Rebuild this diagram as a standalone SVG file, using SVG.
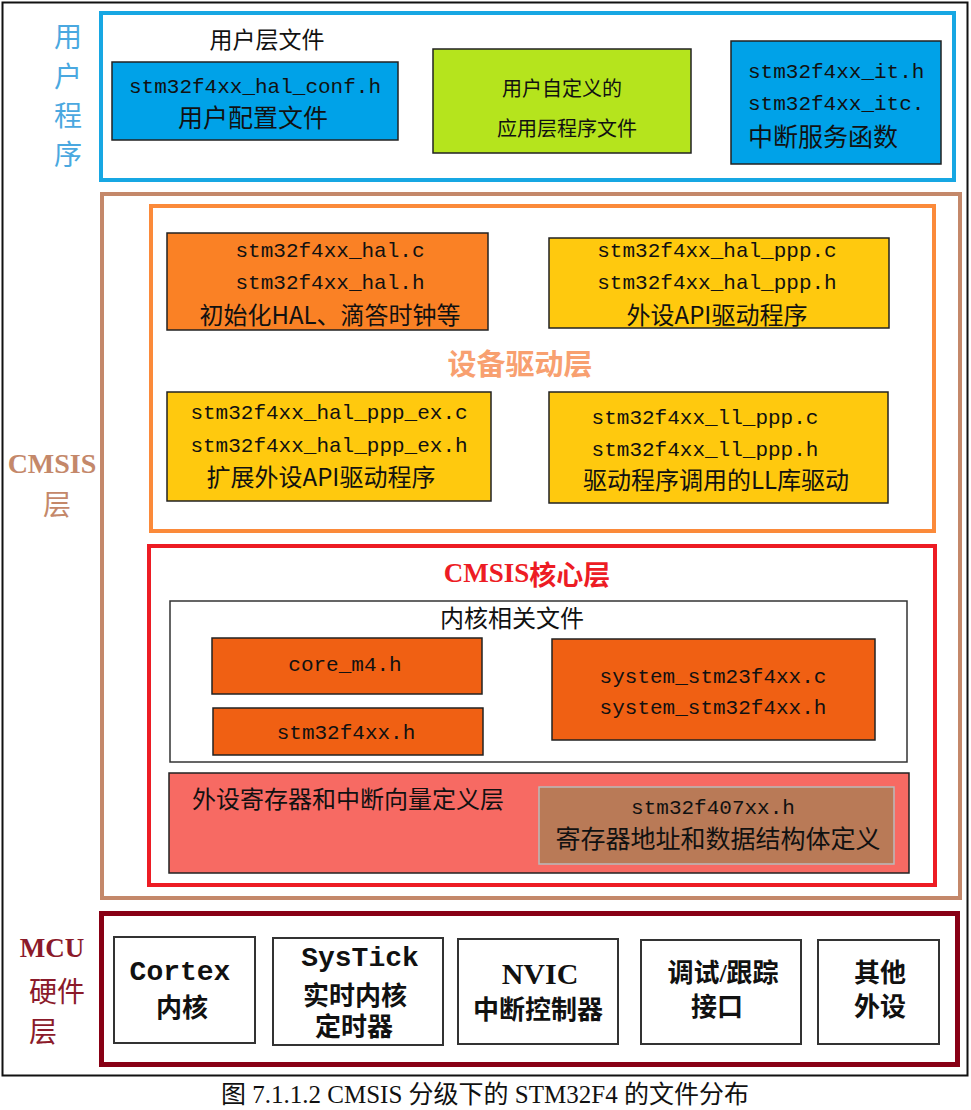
<svg xmlns="http://www.w3.org/2000/svg" width="971" height="1110" viewBox="0 0 971 1110">
<style>
.mono{font-family:"Liberation Mono","DejaVu Sans Mono",monospace;font-size:21px;fill:#111}
.cjk{font-family:"Noto Sans CJK SC","Noto Sans",sans-serif;fill:#111}
.ser{font-family:"Liberation Serif","Noto Sans CJK SC",serif}
.box{stroke:#222;stroke-width:1.5}
.hw{fill:#fff;stroke:#333;stroke-width:2}
.hwt{font-family:"Liberation Serif","Noto Sans CJK SC",serif;font-weight:bold;font-size:26px;fill:#111}
text{dominant-baseline:central}
</style>
<rect x="0" y="0" width="971" height="1110" fill="#fff"/>
<rect id="frame" x="2.5" y="2.5" width="965" height="1073" fill="none" stroke="#111" stroke-width="2"/>

<g id="user-layer">
<rect x="101" y="13" width="853" height="167" fill="#fff" stroke="#17a7e3" stroke-width="4"/>
<g text-anchor="middle">
<text x="68" y="35" class="cjk" style="fill:#4aa8e0;font-size:28px">用</text>
<text x="68" y="75" class="cjk" style="fill:#4aa8e0;font-size:28px">户</text>
<text x="68" y="114" class="cjk" style="fill:#4aa8e0;font-size:28px">程</text>
<text x="68" y="153" class="cjk" style="fill:#4aa8e0;font-size:28px">序</text>
</g>
<text x="267" y="38" class="cjk" font-size="23" text-anchor="middle">用户层文件</text>
</g>

<g id="hal-conf">
<rect x="112" y="62" width="286" height="78" fill="#00a2e8" class="box"/>
<text x="255" y="87" class="mono" text-anchor="middle">stm32f4xx_hal_conf.h</text>
<text x="253" y="116" class="cjk" font-size="25" text-anchor="middle">用户配置文件</text>
</g>

<g id="user-app">
<rect x="433" y="49" width="258" height="104" fill="#b5e41d" class="box"/>
<text x="562" y="87" class="cjk" font-size="20" text-anchor="middle">用户自定义的</text>
<text x="567" y="127" class="cjk" font-size="20" text-anchor="middle">应用层程序文件</text>
</g>

<g id="it-files">
<rect x="731" y="41" width="210" height="123" fill="#00a2e8" class="box"/>
<text x="748" y="72" class="mono">stm32f4xx_it.h</text>
<text x="748" y="104" class="mono">stm32f4xx_itc.</text>
<text x="748" y="135" class="cjk" font-size="25">中断服务函数</text>
</g>

<g id="cmsis-layer">
<rect x="102" y="194" width="858" height="704" fill="#fff" stroke="#c4886a" stroke-width="4"/>
<text x="52" y="463" class="ser" font-size="28" font-weight="bold" fill="#c4886a" text-anchor="middle">CMSIS</text>
<text x="57" y="503" class="cjk" font-size="28" style="fill:#c4886a" text-anchor="middle">层</text>
</g>

<g id="driver-layer">
<rect x="151" y="206" width="783" height="325" fill="#fff" stroke="#fb8a3a" stroke-width="4"/>
<text x="520" y="362" class="cjk" font-size="29" font-weight="bold" style="fill:#f8a070" text-anchor="middle">设备驱动层</text>
</g>

<g id="hal-core">
<rect x="167" y="233" width="321" height="97" fill="#fa8125" class="box"/>
<text x="330" y="251" class="mono" text-anchor="middle">stm32f4xx_hal.c</text>
<text x="330" y="283" class="mono" text-anchor="middle">stm32f4xx_hal.h</text>
<text x="330" y="313" class="cjk" font-size="24" text-anchor="middle">初始化HAL、滴答时钟等</text>
</g>

<g id="hal-ppp">
<rect x="549" y="238" width="340" height="90" fill="#ffc90e" class="box"/>
<text x="717" y="251" class="mono" text-anchor="middle">stm32f4xx_hal_ppp.c</text>
<text x="717" y="283" class="mono" text-anchor="middle">stm32f4xx_hal_ppp.h</text>
<text x="717" y="313" class="cjk" font-size="24" text-anchor="middle">外设API驱动程序</text>
</g>

<g id="hal-ppp-ex">
<rect x="167" y="392" width="324" height="109" fill="#ffc90e" class="box"/>
<text x="329" y="413" class="mono" text-anchor="middle">stm32f4xx_hal_ppp_ex.c</text>
<text x="329" y="446" class="mono" text-anchor="middle">stm32f4xx_hal_ppp_ex.h</text>
<text x="321" y="475" class="cjk" font-size="24" text-anchor="middle">扩展外设API驱动程序</text>
</g>

<g id="ll-ppp">
<rect x="549" y="392" width="339" height="111" fill="#ffc90e" class="box"/>
<text x="705" y="418" class="mono" text-anchor="middle">stm32f4xx_ll_ppp.c</text>
<text x="705" y="450" class="mono" text-anchor="middle">stm32f4xx_ll_ppp.h</text>
<text x="716" y="478" class="cjk" font-size="24" text-anchor="middle">驱动程序调用的LL库驱动</text>
</g>

<g id="cmsis-core">
<rect x="149" y="546" width="786" height="339" fill="#fff" stroke="#ed1c24" stroke-width="4"/>
<text x="527" y="573" class="ser" font-size="27" font-weight="bold" fill="#ed1c24" text-anchor="middle">CMSIS<tspan class="cjk" style="fill:#ed1c24">核心层</tspan></text>
</g>

<g id="core-files">
<rect x="170" y="601" width="737" height="161" fill="#fff" stroke="#333" stroke-width="1.5"/>
<text x="512" y="616" class="cjk" font-size="24" text-anchor="middle">内核相关文件</text>
</g>

<g id="core-m4">
<rect x="212" y="638" width="270" height="56" fill="#f06013" class="box"/>
<text x="345" y="665" class="mono" text-anchor="middle">core_m4.h</text>
</g>

<g id="stm32f4xx-h">
<rect x="213" y="708" width="270" height="47" fill="#f06013" class="box"/>
<text x="346" y="733" class="mono" text-anchor="middle">stm32f4xx.h</text>
</g>

<g id="system-files">
<rect x="552" y="639" width="323" height="101" fill="#f06013" class="box"/>
<text x="713" y="677" class="mono" text-anchor="middle">system_stm23f4xx.c</text>
<text x="713" y="708" class="mono" text-anchor="middle">system_stm32f4xx.h</text>
</g>

<g id="periph-layer">
<rect x="169" y="773" width="740" height="100" fill="#f76a63" class="box"/>
<text x="192" y="797" class="cjk" font-size="24">外设寄存器和中断向量定义层</text>
</g>

<g id="stm32f407xx">
<rect x="539" y="787" width="355" height="77" fill="#b97a57" stroke="#bbb" stroke-width="1.5"/>
<text x="713" y="808" class="mono" text-anchor="middle">stm32f407xx.h</text>
<text x="718" y="837" class="cjk" font-size="25" text-anchor="middle">寄存器地址和数据结构体定义</text>
</g>

<g id="mcu-layer">
<rect x="101.5" y="913.5" width="856" height="151" fill="#fff" stroke="#880015" stroke-width="5"/>
<text x="52" y="948" class="ser" font-size="27" font-weight="bold" fill="#8b1a2a" text-anchor="middle">MCU</text>
<text x="57" y="990" class="cjk" font-size="28" style="fill:#8b1a2a" text-anchor="middle">硬件</text>
<text x="43" y="1030" class="cjk" font-size="28" style="fill:#8b1a2a" text-anchor="middle">层</text>
</g>

<g id="cortex">
<rect x="114" y="937" width="141" height="106" class="hw"/>
<text x="180" y="972" class="hwt" style="font-family:'Liberation Mono',monospace;font-size:28px" text-anchor="middle">Cortex</text>
<text x="182" y="1008" class="hwt cjk" text-anchor="middle">内核</text>
</g>

<g id="systick">
<rect x="273" y="938" width="170" height="107" class="hw"/>
<text x="360" y="958" class="hwt" style="font-family:'Liberation Mono',monospace;font-size:28px" text-anchor="middle">SysTick</text>
<text x="355" y="996" class="hwt cjk" text-anchor="middle">实时内核</text>
<text x="354" y="1027" class="hwt cjk" text-anchor="middle">定时器</text>
</g>

<g id="nvic">
<rect x="458" y="939" width="160" height="105" class="hw"/>
<text x="540" y="973" class="hwt" style="font-size:30px" text-anchor="middle">NVIC</text>
<text x="538" y="1010" class="hwt cjk" text-anchor="middle">中断控制器</text>
</g>

<g id="debug">
<rect x="641" y="940" width="160" height="104" class="hw"/>
<text x="723" y="973" class="hwt cjk" text-anchor="middle">调试/跟踪</text>
<text x="717" y="1007" class="hwt cjk" text-anchor="middle">接口</text>
</g>

<g id="other">
<rect x="818" y="940" width="121" height="104" class="hw"/>
<text x="880" y="973" class="hwt cjk" text-anchor="middle">其他</text>
<text x="880" y="1007" class="hwt cjk" text-anchor="middle">外设</text>
</g>

<g id="connectors"></g>

<text id="caption" x="485" y="1094" class="ser" font-size="25" fill="#111" text-anchor="middle">图 7.1.1.2 CMSIS 分级下的 STM32F4 的文件分布</text>
</svg>
